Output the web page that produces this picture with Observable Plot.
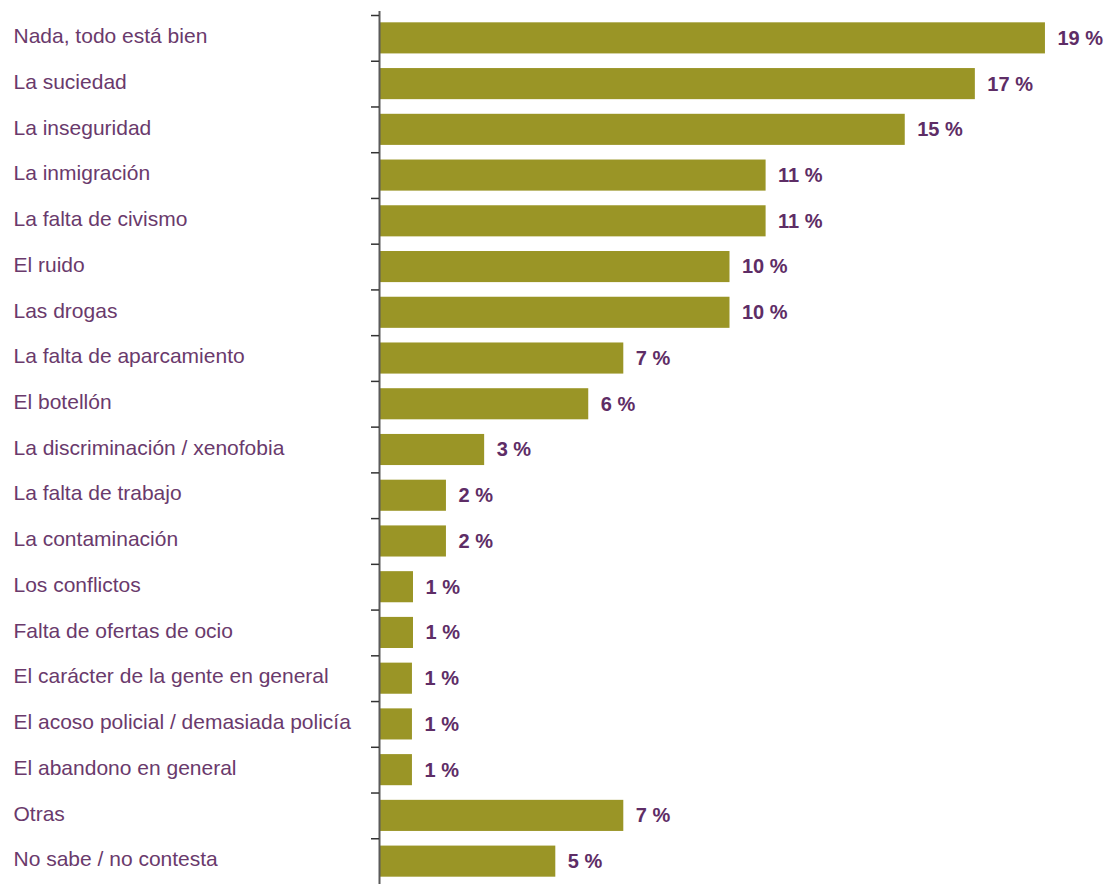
<!DOCTYPE html>
<html>
<head>
<meta charset="utf-8">
<script src="https://cdn.jsdelivr.net/npm/d3@7"></script>
<script src="https://cdn.jsdelivr.net/npm/@observablehq/plot@0.6"></script>
<style>
  html, body { margin: 0; padding: 0; background: #ffffff; }
  #chart svg { display: block; }
</style>
</head>
<body>
<div id="chart"></div>
<script>
const categories = [
  "Nada, todo está bien",
  "La suciedad",
  "La inseguridad",
  "La inmigración",
  "La falta de civismo",
  "El ruido",
  "Las drogas",
  "La falta de aparcamiento",
  "El botellón",
  "La discriminación / xenofobia",
  "La falta de trabajo",
  "La contaminación",
  "Los conflictos",
  "Falta de ofertas de ocio",
  "El carácter de la gente en general",
  "El acoso policial / demasiada policía",
  "El abandono en general",
  "Otras",
  "No sabe / no contesta"
];
const values = [19.0, 17.0, 15.0, 11.03, 11.03, 10.0, 10.0, 6.97, 5.97, 3.0, 1.91, 1.91, 0.97, 0.97, 0.94, 0.94, 0.94, 6.97, 5.03];
const percentLabels = ["19", "17", "15", "11", "11", "10", "10", "7", "6", "3", "2", "2", "1", "1", "1", "1", "1", "7", "5"];

const data = categories.map((c, i) => ({cat: c, value: values[i], label: percentLabels[i] + " %"}));

const W = 1109, H = 884, mT = 15, mB = 0, mL = 379, mR = 29;
const step = (H - mT - mB) / categories.length;

const chart = Plot.plot({
  width: W,
  height: H,
  marginLeft: mL,
  marginRight: mR,
  marginTop: mT,
  marginBottom: mB,
  style: {fontFamily: "'Liberation Sans', Arial, sans-serif", background: "#ffffff"},
  x: {domain: [0, 20], axis: null},
  y: {domain: categories, paddingInner: 0.32, paddingOuter: 0.16, round: false, axis: null},
  marks: [
    Plot.barX(data, {x: "value", y: "cat", fill: "#9a9526"}),
    Plot.ruleX([0], {stroke: "#5a5a5a", strokeWidth: 2, insetTop: -4}),
    Plot.axisY({tickSize: 8, tickFormat: () => "", label: null, dy: -step / 2, stroke: "#333333", strokeWidth: 1.5}),
    Plot.text(data, {
      y: "cat", text: "cat", frameAnchor: "left", textAnchor: "start", dx: -366, dy: -2,
      fill: "#6a3a6c", fontSize: 21
    }),
    Plot.text(data, {
      x: "value", y: "cat", text: "label", textAnchor: "start", dx: 12,
      fill: "#5e2d66", fontSize: 20, fontWeight: "bold"
    })
  ]
});
document.getElementById("chart").appendChild(chart);
</script>
</body>
</html>
